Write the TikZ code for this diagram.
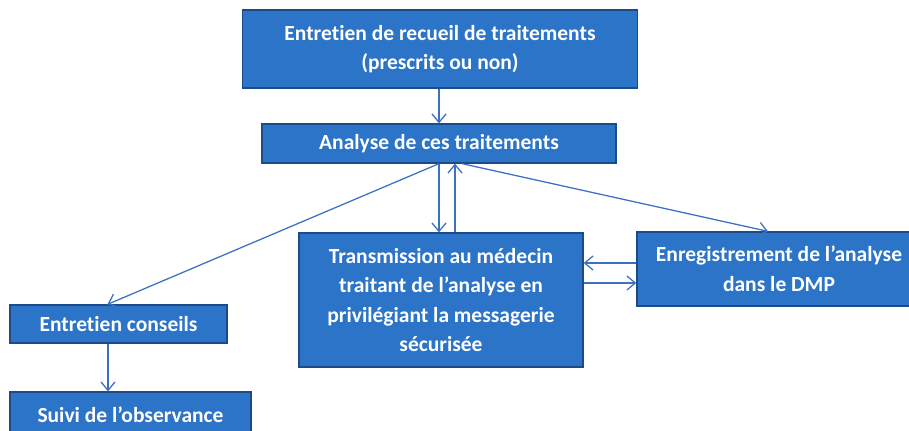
\documentclass[tikz,border=0pt]{standalone}
\usepackage{fontspec}
\setmainfont{Carlito}[Ligatures=NoCommon]
\usepackage{xcolor}
\usetikzlibrary{arrows.meta,calc}

\definecolor{boxblue}{HTML}{2C74C8}
\definecolor{boxedge}{HTML}{1D4B85}
\definecolor{linkblue}{HTML}{3B70C2}

\begin{document}
\begin{tikzpicture}[x=0.025cm,y=-0.025cm,
    etape/.style={draw=boxedge,line width=0.9pt,fill=boxblue,text=white,
      font=\fontsize{15.3}{21}\selectfont\bfseries,align=center,
      inner sep=0pt,anchor=center},
    lien/.style={draw=linkblue,line width=0.9pt,
      -{Straight Barb[length=6pt,width=10pt]}}]
        \clip (0,0) rectangle (909,430);
        \useasboundingbox (0,0) rectangle (909,430);
        % boites
        \node[etape,minimum width=9.875cm,minimum height=1.95cm] (recueil) at (440,49)
          {Entretien de recueil de traitements\\(prescrits ou non)};
        \node[etape,minimum width=8.85cm,minimum height=0.975cm] (analyse) at (439,143.5)
          {Analyse de ces traitements};
        \node[etape,minimum width=7.1cm,minimum height=3.35cm] (transmission) at (441,300)
          {Transmission au m\'edecin\\traitant de l'analyse en\\privil\'egiant la messagerie\\s\'ecuris\'ee};
        \node[etape,minimum width=7.1cm,minimum height=1.85cm] (dmp) at (779,269)
          {Enregistrement de l'analyse\\dans le DMP};
        \node[etape,minimum width=5.425cm,minimum height=0.95cm] (conseils) at (118.5,324)
          {Entretien conseils};
        \node[etape,minimum width=6.025cm,minimum height=1.15cm] (suivi) at (130.5,415)
          {Suivi de l'observance};
        % fleches
        \draw[lien] (recueil.south -| analyse.south) -- (analyse.north);
        \draw[lien] (analyse.south) -- (analyse.south |- transmission.north);
        \draw[lien] ($(analyse.south |- transmission.north)+(16,0)$) -- ($(analyse.south)+(16,0)$);
        \draw[lien] (analyse.south) -- ($(conseils.north)+(-11,0)$);
        \draw[lien] ($(analyse.south)+(23,0)$) -- ($(dmp.north)+(-11,0)$);
        \draw[lien] ($(dmp.west)+(0,-6)$) -- ($(transmission.east)+(0,-37)$);
        \draw[lien] ($(transmission.east)+(0,-17)$) -- ($(dmp.west)+(0,14)$);
        \draw[lien] ($(conseils.south)+(-10.5,0)$) -- ($(suivi.north)+(-22.5,0)$);
      \end{tikzpicture}
\end{document}
